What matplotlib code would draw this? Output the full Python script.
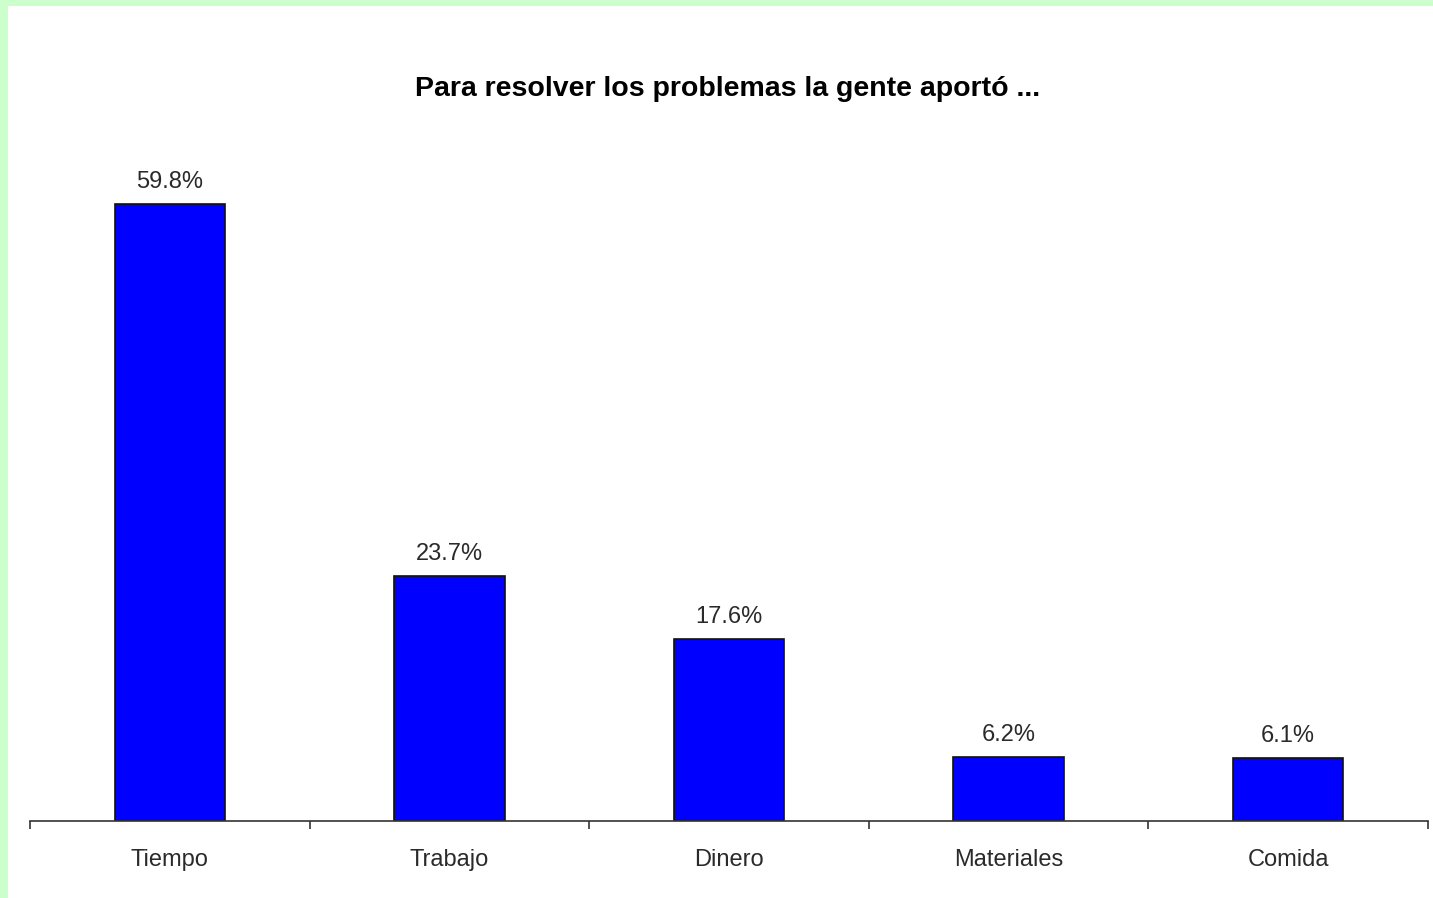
import matplotlib
matplotlib.use("Agg")
import matplotlib.pyplot as plt
from matplotlib.patches import Rectangle

categories = ["Tiempo", "Trabajo", "Dinero", "Materiales", "Comida"]
values = [59.8, 23.7, 17.6, 6.2, 6.1]
labels = ["59.8%", "23.7%", "17.6%", "6.2%", "6.1%"]
title = "Para resolver los problemas la gente aportó ..."

plt.rcParams['font.family'] = ['Liberation Sans', 'DejaVu Sans']

W, H = 1433, 898
fig = plt.figure(figsize=(W / 100, H / 100), dpi=100)
fig.patch.set_facecolor("white")

# green frame (top and left)
fig.patches.append(Rectangle((0, 1 - 6 / H), 1, 6 / H, transform=fig.transFigure,
                             facecolor="#CCFFCC", edgecolor="none", zorder=-1))
fig.patches.append(Rectangle((0, 0), 8 / W, 1, transform=fig.transFigure,
                             facecolor="#CCFFCC", edgecolor="none", zorder=-1))

left, right = 30 / W, 1428 / W
bottom, top = (H - 821) / H, (H - 150) / H
ax = fig.add_axes([left, bottom, right - left, top - bottom])

x = list(range(len(categories)))
ax.bar(x, values, width=0.395, color="#0000FF", edgecolor="#111111", linewidth=1.2)
for i, (v, lab) in enumerate(zip(values, labels)):
    ax.annotate(lab, (i, v), xytext=(0, 8), textcoords="offset points",
                ha="center", va="bottom", fontsize=17, color="#2a2a2a")

ax.set_xlim(-0.5, len(categories) - 0.5)
ax.set_ylim(0, 65)
for s in ["top", "right", "left"]:
    ax.spines[s].set_visible(False)
ax.spines["bottom"].set_color("#333333")
ax.spines["bottom"].set_linewidth(1.2)
ax.set_yticks([])
ax.set_xticks([i - 0.5 for i in range(len(categories) + 1)])
ax.set_xticklabels([])
ax.set_xticks(x, minor=True)
ax.set_xticklabels(categories, minor=True, fontsize=17, color="#2a2a2a")
ax.tick_params(axis="x", which="major", direction="out", length=6, width=1.2, color="#333333")
ax.tick_params(axis="x", which="minor", length=0, pad=20.5)
ax.set_facecolor("white")

fig.text(728 / W, 1 - 89 / H, title, ha="center", va="center",
         fontsize=20.5, fontweight="bold", color="black")

fig.savefig("out.png", dpi=100, facecolor="white")
